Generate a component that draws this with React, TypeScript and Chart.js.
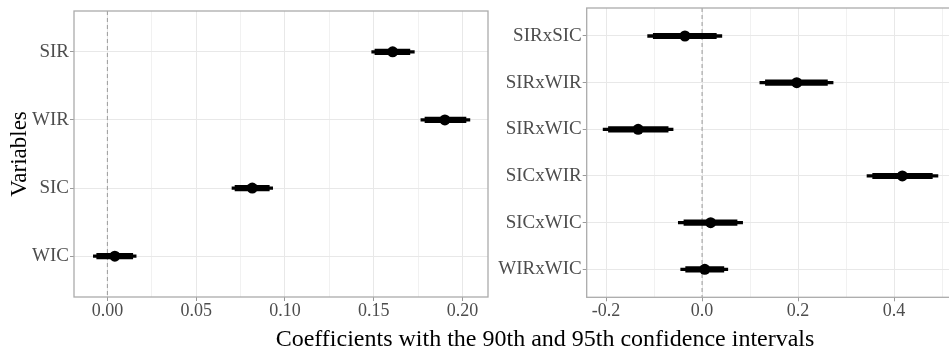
import React, { useEffect, useRef } from "react";
import { Chart, registerables } from "chart.js";
Chart.register(...registerables);

// ---- Data: main effects (left panel) ----
const mainVars = ["SIR", "WIR", "SIC", "WIC"];
const mainEst = [0.1607, 0.1901, 0.0816, 0.0042];
const mainLo90 = [0.1507, 0.1789, 0.0719, -0.006];
const mainHi90 = [0.1704, 0.202, 0.0912, 0.0143];
const mainLo95 = [0.1489, 0.1766, 0.0702, -0.0079];
const mainHi95 = [0.1729, 0.2042, 0.0931, 0.0162];
const mainMajorTicks = [0, 0.05, 0.1, 0.15, 0.2];
const mainMinorTicks = [0.025, 0.075, 0.125, 0.175];

// ---- Data: interactions (right panel) ----
const interVars = ["SIRxSIC", "SIRxWIR", "SIRxWIC", "SICxWIR", "SICxWIC", "WIRxWIC"];
const interEst = [-0.0357, 0.1973, -0.1332, 0.4173, 0.0179, 0.0056];
const interLo90 = [-0.1017, 0.132, -0.1951, 0.3555, -0.0378, -0.0342];
const interHi90 = [0.0297, 0.2612, -0.0707, 0.4798, 0.0729, 0.0454];
const interLo95 = [-0.1134, 0.1204, -0.2062, 0.3437, -0.0495, -0.0445];
const interHi95 = [0.0412, 0.273, -0.0604, 0.4915, 0.0845, 0.0536];
const interMajorTicks = [-0.2, 0, 0.2, 0.4];
const interMinorTicks = [-0.1, 0.1, 0.3, 0.5];

const xTitle = "Coefficients with the 90th and 95th confidence intervals";
const yTitle = "Variables";

const FONT = "'Liberation Serif', 'Times New Roman', serif";

const panelPlugin = {
  id: "panelDeco",
  beforeDatasetsDraw(chart: any) {
    const { ctx, chartArea: a, scales } = chart;
    const px = scales.x.getPixelForValue(0);
    ctx.save();
    ctx.strokeStyle = "#9a9a9a";
    ctx.lineWidth = 1;
    ctx.setLineDash([4, 3]);
    ctx.beginPath();
    ctx.moveTo(px, a.top);
    ctx.lineTo(px, a.bottom);
    ctx.stroke();
    ctx.restore();
  },
  afterDatasetsDraw(chart: any) {
    const { ctx, chartArea: a } = chart;
    ctx.save();
    ctx.strokeStyle = "#ababab";
    ctx.lineWidth = 1.3;
    ctx.strokeRect(a.left, a.top, a.right - a.left, a.bottom - a.top);
    ctx.restore();
  },
};

type PanelProps = {
  vars: string[];
  est: number[];
  lo90: number[];
  hi90: number[];
  lo95: number[];
  hi95: number[];
  major: number[];
  minor: number[];
  digits: number;
  xmin: number;
  xmax: number;
  yWidth: number;
  xHeight: number;
  padTop: number;
  padRight: number;
  showYTitle: boolean;
  left: number;
  width: number;
};

function Panel(p: PanelProps) {
  const ref = useRef<HTMLCanvasElement>(null);
  useEffect(() => {
    if (!ref.current) return;
    const isMajor = (v: number) => p.major.some((m) => Math.abs(m - v) < 1e-9);
    const allTicks = [...p.major, ...p.minor].sort((a, b) => a - b);
    const n = p.vars.length;
    const chart = new Chart(ref.current, {
      type: "bar",
      data: {
        datasets: [
          {
            type: "scatter",
            data: p.vars.map((_, i) => ({ x: p.est[i], y: i + 1 })),
            pointRadius: 5.5,
            pointBackgroundColor: "#000",
            pointBorderWidth: 0,
            order: 0,
          } as any,
          {
            type: "bar",
            indexAxis: "y",
            data: p.vars.map((_, i) => ({ y: i + 1, x: [p.lo90[i], p.hi90[i]] })),
            backgroundColor: "#000",
            barThickness: 5.5,
            grouped: false,
            borderWidth: 0,
            order: 1,
          } as any,
          {
            type: "bar",
            indexAxis: "y",
            data: p.vars.map((_, i) => ({ y: i + 1, x: [p.lo95[i], p.hi95[i]] })),
            backgroundColor: "#000",
            barThickness: 2.6,
            grouped: false,
            borderWidth: 0,
            order: 2,
          } as any,
        ],
      },
      options: {
        animation: false,
        responsive: false,
        maintainAspectRatio: false,
        layout: { padding: { top: p.padTop, right: p.padRight, left: 0, bottom: 0 } },
        plugins: { legend: { display: false }, tooltip: { enabled: false } },
        scales: {
          x: {
            type: "linear",
            min: p.xmin,
            max: p.xmax,
            offset: false,
            beginAtZero: false,
            afterBuildTicks: (s: any) => {
              s.ticks = allTicks.map((v) => ({ value: v }));
            },
            afterFit: (s: any) => {
              s.height = p.xHeight;
              s.paddingLeft = 0;
              s.paddingRight = 0;
            },
            ticks: {
              autoSkip: false,
              maxRotation: 0,
              padding: -1,
              color: "#4d4d4d",
              font: { family: FONT, size: 18 },
              callback: (v: any) => (isMajor(Number(v)) ? Number(v).toFixed(p.digits) : ""),
            },
            grid: {
              offset: false,
              color: (c: any) => (isMajor(c.tick?.value ?? 0) ? "#e8e8e8" : "#f1f1f1"),
              lineWidth: 1,
              tickLength: 4,
              tickColor: (c: any) => (isMajor(c.tick?.value ?? 0) ? "#9a9a9a" : "rgba(0,0,0,0)"),
            },
            border: { display: false },
          },
          y: {
            type: "linear",
            reverse: true,
            min: 0.4,
            max: n + 0.6,
            offset: false,
            beginAtZero: false,
            afterBuildTicks: (s: any) => {
              s.ticks = p.vars.map((_, i) => ({ value: i + 1 }));
            },
            afterFit: (s: any) => {
              s.width = p.yWidth;
              s.paddingTop = 0;
              s.paddingBottom = 0;
            },
            ticks: {
              autoSkip: false,
              padding: 1,
              color: "#4d4d4d",
              font: { family: FONT, size: 19 },
              callback: (v: any) => p.vars[Math.round(Number(v)) - 1] ?? "",
            },
            grid: {
              offset: false,
              color: "#e8e8e8",
              lineWidth: 1,
              tickLength: 4,
              tickColor: "#9a9a9a",
            },
            border: { display: false },
            title: {
              display: p.showYTitle,
              text: yTitle,
              color: "#000",
              font: { family: FONT, size: 23 },
              padding: { top: 6, bottom: 0 },
            },
          },
        },
      } as any,
      plugins: [panelPlugin],
    });
    return () => chart.destroy();
  }, []);
  return (
    <canvas
      ref={ref}
      width={p.width}
      height={353}
      style={{ position: "absolute", left: p.left, top: 0, width: p.width, height: 353 }}
    />
  );
}

export default function App() {
  return (
    <div
      style={{
        position: "fixed",
        left: 0,
        top: 0,
        width: 949,
        height: 353,
        overflow: "hidden",
        background: "#fff",
      }}
    >
      <Panel
        vars={mainVars}
        est={mainEst}
        lo90={mainLo90}
        hi90={mainHi90}
        lo95={mainLo95}
        hi95={mainHi95}
        major={mainMajorTicks}
        minor={mainMinorTicks}
        digits={2}
        xmin={-0.0188}
        xmax={0.2144}
        yWidth={74}
        xHeight={56}
        padTop={11}
        padRight={12}
        showYTitle={true}
        left={0}
        width={500}
      />
      <Panel
        vars={interVars}
        est={interEst}
        lo90={interLo90}
        hi90={interHi90}
        lo95={interLo95}
        hi95={interHi95}
        major={interMajorTicks}
        minor={interMinorTicks}
        digits={1}
        xmin={-0.2404}
        xmax={0.526}
        yWidth={96.7}
        xHeight={55.7}
        padTop={8}
        padRight={1.5}
        showYTitle={false}
        left={490}
        width={470}
      />
      <div
        style={{
          position: "absolute",
          left: 195,
          width: 700,
          top: 326,
          textAlign: "center",
          fontFamily: FONT,
          fontSize: 24,
          lineHeight: "24px",
          color: "#000",
          whiteSpace: "nowrap",
        }}
      >
        {xTitle}
      </div>
    </div>
  );
}
